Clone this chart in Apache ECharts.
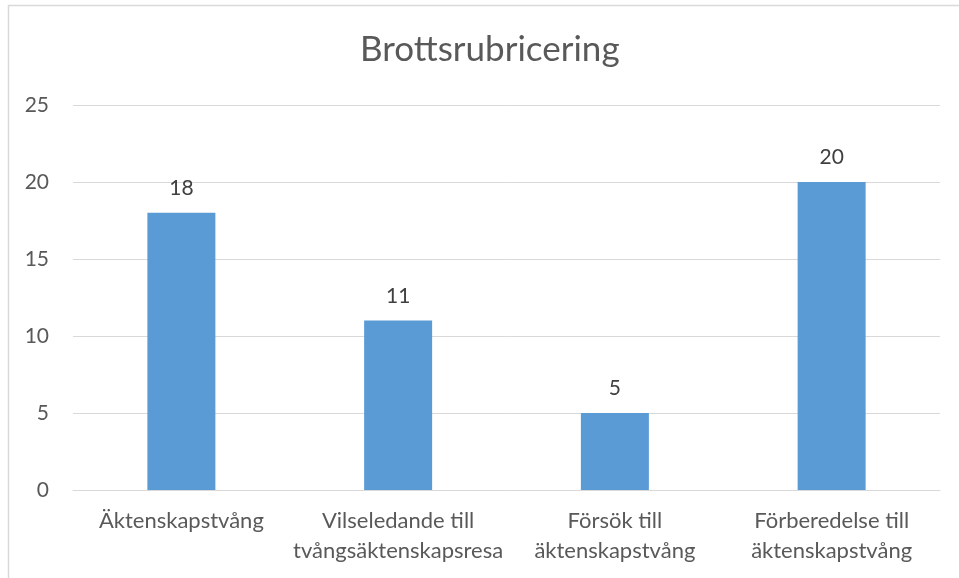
<!DOCTYPE html>
<html><head><meta charset="utf-8">
<script src="https://cdn.jsdelivr.net/npm/echarts@6/dist/echarts.min.js"></script>
<style>html,body{margin:0;padding:0;background:#fff}#c{width:959px;height:578px}</style>
</head><body><div id="c"></div>
<script>
const categories = ['Äktenskapstvång', 'Vilseledande till\ntvångsäktenskapsresa', 'Försök till\näktenskapstvång', 'Förberedelse till\näktenskapstvång'];
const values = [18, 11, 5, 20];
const chartTitle = 'Brottsrubricering';
const yMin = 0, yMax = 25, yStep = 5;

const chart = echarts.init(document.getElementById('c'), null, {renderer: 'canvas'});
const font = 'Lato, "Open Sans", sans-serif';
chart.setOption({
  animation: false,
  graphic: [{
    type: 'rect', shape: {x: 8.5, y: 5.5, width: 1000, height: 1000},
    style: {fill: 'none', stroke: '#d9d9d9', lineWidth: 1.5}, z: -1
  }],
  title: {
    text: chartTitle, left: 355, top: 27,
    textStyle: {fontFamily: font, fontSize: 35, fontWeight: 'normal', color: '#595959'}
  },
  grid: {left: 73, right: 19, top: 105, bottom: 88, containLabel: false},
  xAxis: {
    type: 'category', data: categories,
    axisLine: {lineStyle: {color: '#d9d9d9', width: 1}},
    axisTick: {show: false},
    axisLabel: {fontFamily: font, fontSize: 22, color: '#595959', margin: 16, lineHeight: 30, interval: 0}
  },
  yAxis: {
    type: 'value', min: yMin, max: yMax, interval: yStep,
    axisLine: {show: false}, axisTick: {show: false},
    splitLine: {lineStyle: {color: '#d9d9d9', width: 1}},
    axisLabel: {fontFamily: font, fontSize: 21, color: '#595959', margin: 24}
  },
  series: [{
    type: 'bar', data: values, barWidth: 68,
    itemStyle: {color: '#5b9bd5'},
    label: {show: true, position: 'top', distance: 14, fontFamily: font, fontSize: 21, color: '#404040'}
  }]
});
</script></body></html>
